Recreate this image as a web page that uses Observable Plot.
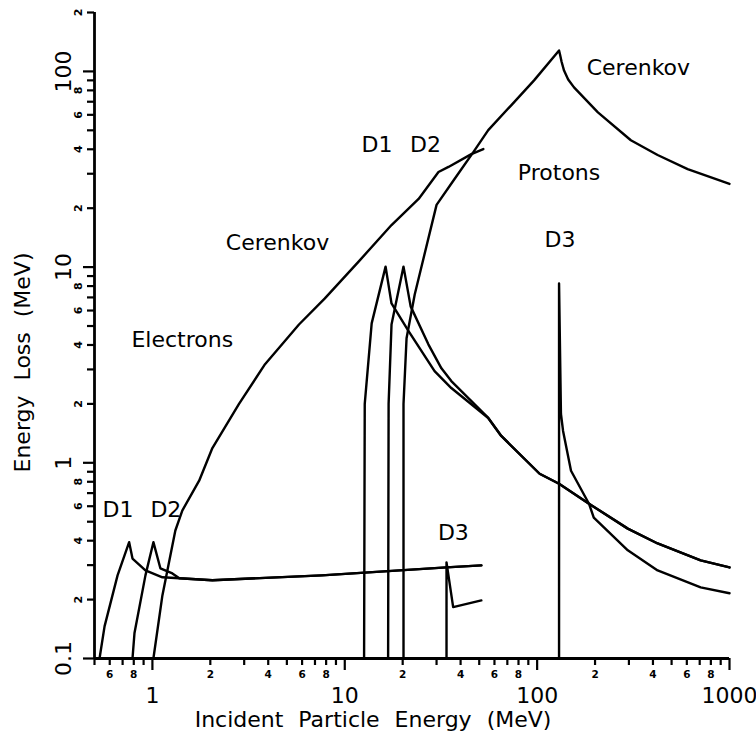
<!DOCTYPE html>
<html><head><meta charset="utf-8">
<script src="https://cdn.jsdelivr.net/npm/d3@7"></script>
<script src="https://cdn.jsdelivr.net/npm/@observablehq/plot@0.6"></script>
<style>html,body{margin:0;padding:0;background:#fff;}#chart{width:756px;height:736px;}</style>
</head><body><div id="chart"></div>
<script>
// Electrons
const eD1X = [0.531, 0.564, 0.659, 0.757, 0.788, 0.920, 1.127, 1.380, 2.05, 7.6, 33.8, 51.3];
const eD1Y = [0.100, 0.146, 0.266, 0.393, 0.324, 0.282, 0.260, 0.257, 0.251, 0.266, 0.292, 0.299];
const eD2X = [0.788, 0.807, 0.920, 1.012, 1.100, 1.270, 1.380, 2.05, 7.6, 33.8, 51.3];
const eD2Y = [0.100, 0.135, 0.266, 0.393, 0.289, 0.272, 0.257, 0.251, 0.266, 0.292, 0.299];
const eD3X = [33.8, 33.8, 36.6, 51.3];
const eD3Y = [0.100, 0.310, 0.183, 0.198];
const eCX = [1.012, 1.127, 1.316, 1.43, 1.75, 2.05, 2.82, 3.85, 5.78, 7.88, 11.8, 17.5, 24.2, 30.7, 34.6, 45.5, 52.5];
const eCY = [0.100, 0.210, 0.451, 0.570, 0.810, 1.190, 2.00, 3.19, 5.09, 6.92, 10.67, 16.4, 22.3, 30.6, 32.5, 37.8, 40.1];
// Protons
const pD1X = [12.6, 12.7, 13.8, 16.3, 17.5, 21.5, 29.3, 35.8, 55.7, 65.1, 103, 130, 186, 296, 423, 708, 1000];
const pD1Y = [0.100, 2.00, 5.16, 10.06, 6.52, 4.70, 2.94, 2.41, 1.695, 1.372, 0.879, 0.782, 0.618, 0.461, 0.387, 0.317, 0.292];
const pD2X = [16.8, 16.9, 17.5, 20.2, 22.0, 27.2, 31.8, 35.8, 55.7, 65.1, 103, 130, 186, 296, 423, 708, 1000];
const pD2Y = [0.100, 2.00, 5.09, 10.06, 6.30, 4.03, 3.04, 2.615, 1.695, 1.372, 0.879, 0.782, 0.618, 0.461, 0.387, 0.317, 0.292];
const pD3X = [130, 130, 133, 136.4, 150, 186, 197, 296, 423, 708, 1000];
const pD3Y = [0.100, 8.24, 1.776, 1.455, 0.911, 0.618, 0.525, 0.357, 0.282, 0.231, 0.2155];
const pCX = [20.2, 20.2, 20.95, 23.1, 30.0, 37.2, 46.6, 55.7, 73.3, 96.4, 130, 131.5, 134, 138, 145, 155.5, 207, 307, 423, 606, 1000];
const pCY = [0.100, 2.00, 4.33, 7.25, 20.8, 28.2, 38.7, 50.1, 67.1, 90.0, 128, 122, 112, 101, 91, 82.9, 61.8, 44.5, 37.4, 31.7, 26.6];

// Annotations
const labelText = ["Electrons", "Cerenkov", "D1", "D2", "D3", "D1", "D2", "Protons", "D3", "Cerenkov"];
const labelX = [1.43, 4.47, 0.663, 1.175, 36.7, 14.7, 26.3, 130, 131.6, 336];
const labelY = [4.23, 13.3, 0.576, 0.576, 0.44, 42, 42, 30.3, 13.8, 103.6];

// Ticks
const xMajor = [1, 10, 100, 1000];
const xMajorLabels = ["1", "10", "100", "1000"];
const xMinorLab = [0.6, 0.8, 2, 4, 6, 8, 20, 40, 60, 80, 200, 400, 600, 800];
const xMinorLabels = ["6", "8", "2", "4", "6", "8", "2", "4", "6", "8", "2", "4", "6", "8"];
const xMinor = [0.5, 0.7, 0.9, 3, 5, 7, 9, 30, 50, 70, 90, 300, 500, 700, 900];
const yMajor = [0.1, 1, 10, 100];
const yMajorLabels = ["0.1", "1", "10", "100"];
const yMinorLab = [0.2, 0.4, 0.6, 0.8, 2, 4, 6, 8, 20, 40, 60, 80, 200];
const yMinorLabels = ["2", "4", "6", "8", "2", "4", "6", "8", "2", "4", "6", "8", "2"];
const yMinor = [0.3, 0.5, 0.7, 0.9, 3, 5, 7, 9, 30, 50, 70, 90];

const xTitle = "Incident Particle Energy (MeV)";
const yTitle = "Energy Loss (MeV)";

const seriesList = [
  ["e-D1", eD1X, eD1Y], ["e-D2", eD2X, eD2Y], ["e-D3", eD3X, eD3Y], ["e-Cerenkov", eCX, eCY],
  ["p-D1", pD1X, pD1Y], ["p-D2", pD2X, pD2Y], ["p-D3", pD3X, pD3Y], ["p-Cerenkov", pCX, pCY]
];
const rows = seriesList.flatMap(([s, xs, ys]) => xs.map((x, i) => ({series: s, x, y: ys[i]})));
const labels = labelText.map((t, i) => ({t, x: labelX[i], y: labelY[i]}));

const noText = {fill: "none", tickFormat: () => "", label: null};

const chart = Plot.plot({
  width: 756,
  height: 736,
  marginLeft: 94,
  marginRight: 27,
  marginTop: 12,
  marginBottom: 78,
  style: {fontFamily: "DejaVu Sans", background: "white", color: "black", wordSpacing: "8px"},
  x: {type: "log", domain: [0.5, 1000]},
  y: {type: "log", domain: [0.1, 200]},
  marks: [
    Plot.axisX(xMajor, {...noText, tickSize: 12, strokeWidth: 2.2}),
    Plot.axisX(xMinorLab, {...noText, tickSize: 7, strokeWidth: 2.2}),
    Plot.axisX(xMinor, {...noText, tickSize: 7, strokeWidth: 2.2}),
    Plot.axisY(yMajor, {...noText, tickSize: 11, strokeWidth: 2.2}),
    Plot.axisY(yMinorLab, {...noText, tickSize: 7, strokeWidth: 2.2}),
    Plot.axisY(yMinor, {...noText, tickSize: 7, strokeWidth: 2.2}),
    Plot.ruleY([0.1], {strokeWidth: 2.8}),
    Plot.ruleX([0.5], {strokeWidth: 2.8}),
    Plot.text(xMajor, {x: d => d, text: (d, i) => xMajorLabels[i], frameAnchor: "bottom", dy: 29, lineAnchor: "top", fontSize: 22}),
    Plot.text(xMinorLab, {x: d => d, text: (d, i) => xMinorLabels[i], frameAnchor: "bottom", dy: 12, lineAnchor: "top", fontSize: 10.5, fontWeight: "bold"}),
    Plot.text(yMajor, {y: d => d, text: (d, i) => yMajorLabels[i], frameAnchor: "left", dx: -31, rotate: -90, textAnchor: "middle", lineAnchor: "middle", fontSize: 22}),
    Plot.text(yMinorLab, {y: d => d, text: (d, i) => yMinorLabels[i], frameAnchor: "left", dx: -16, rotate: -90, textAnchor: "middle", lineAnchor: "middle", fontSize: 11, fontWeight: "bold"}),
    Plot.text([xTitle], {frameAnchor: "bottom", dx: -39, dy: 53, lineAnchor: "top", fontSize: 22}),
    Plot.text([yTitle], {frameAnchor: "left", dx: -72, dy: 27, rotate: -90, textAnchor: "middle", lineAnchor: "middle", fontSize: 22}),
    Plot.line(rows, {x: "x", y: "y", z: "series", stroke: "black", strokeWidth: 2.4, strokeLinejoin: "round"}),
    Plot.text(labels, {x: "x", y: "y", text: "t", fontSize: 22, textAnchor: "middle", lineAnchor: "middle"})
  ]
});
document.getElementById("chart").appendChild(chart);
</script>
</body></html>
